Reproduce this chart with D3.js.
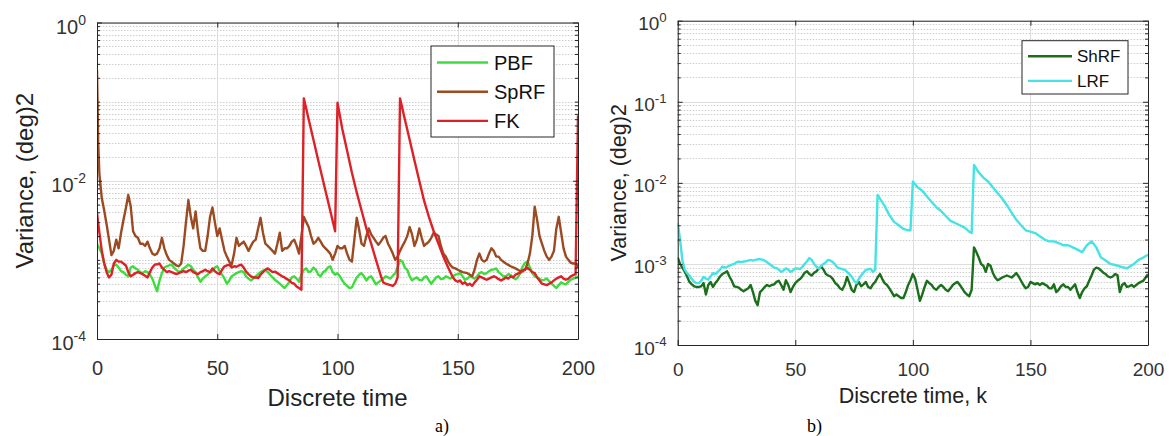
<!DOCTYPE html>
<meta charset="utf-8">
<script src="https://d3js.org/d3.v7.min.js"></script>
<style>
  body { margin: 0; background: #fff; }
  text { font-family: "Liberation Sans", Arial, sans-serif; }
</style>
<div id="chart"></div>
<script>
// ---------- data, [k, variance] ----------
var pbf = [[0,0.0016],[1,0.0014],[2,0.0012],[3,0.0009],[4,0.00075],[5,0.0007],[6,0.00075],[7,0.00085],[8,0.00087],[9,0.0008],[10,0.00072],[11,0.0007],[12,0.00065],[13,0.00062],[14,0.0008],[15,0.00083],[16,0.00078],[17,0.00075],[18,0.0007],[19,0.00068],[20,0.00072],[21,0.0007],[22,0.00065],[23,0.00058],[24,0.00048],[25,0.0004],[26,0.00055],[27,0.00068],[28,0.0008],[29,0.00083],[30,0.00085],[31,0.00087],[32,0.0008],[33,0.00075],[34,0.0007],[35,0.00072],[36,0.00078],[37,0.00082],[38,0.00087],[39,0.00083],[40,0.00075],[41,0.0007],[42,0.0006],[43,0.00053],[44,0.00058],[45,0.00062],[46,0.00065],[47,0.0007],[48,0.00072],[49,0.0008],[50,0.00083],[51,0.00072],[52,0.00065],[53,0.00058],[54,0.0005],[55,0.00055],[56,0.00062],[57,0.00065],[58,0.00068],[59,0.0007],[60,0.00072],[61,0.0007],[62,0.00062],[63,0.00058],[64,0.00055],[65,0.00058],[66,0.00062],[67,0.00066],[68,0.0007],[69,0.00073],[70,0.00075],[71,0.0007],[72,0.00065],[73,0.0006],[74,0.00056],[75,0.00053],[76,0.0005],[77,0.00047],[78,0.00044],[79,0.00048],[80,0.00053],[81,0.0006],[82,0.00062],[83,0.00058],[84,0.00053],[85,0.00065],[86,0.00075],[87,0.00078],[88,0.0007],[89,0.00072],[90,0.0008],[91,0.00075],[92,0.00065],[93,0.00062],[94,0.0007],[95,0.00073],[96,0.0008],[97,0.00083],[98,0.0007],[99,0.00065],[100,0.00068],[101,0.00062],[102,0.00055],[103,0.0005],[104,0.00047],[105,0.00044],[106,0.00045],[107,0.00052],[108,0.0006],[109,0.00065],[110,0.00068],[111,0.00062],[112,0.00055],[113,0.0006],[114,0.00062],[115,0.00055],[116,0.00049],[117,0.00052],[118,0.00055],[119,0.00058],[120,0.00062],[121,0.0006],[122,0.00058],[123,0.00063],[124,0.00068],[125,0.0008],[126,0.001],[127,0.00095],[128,0.0008],[129,0.00075],[130,0.00062],[131,0.00055],[132,0.00058],[133,0.0006],[134,0.00056],[135,0.00055],[136,0.0006],[137,0.00062],[138,0.00055],[139,0.0005],[140,0.00055],[141,0.0006],[142,0.00062],[143,0.00057],[144,0.00058],[145,0.00062],[146,0.0006],[147,0.00058],[148,0.00062],[149,0.00065],[150,0.00066],[151,0.00068],[152,0.00062],[153,0.00056],[154,0.00058],[155,0.00062],[156,0.0006],[157,0.00058],[158,0.00062],[159,0.00068],[160,0.0007],[161,0.00066],[162,0.00068],[163,0.00072],[164,0.00075],[165,0.00076],[166,0.00078],[167,0.0007],[168,0.00066],[169,0.00062],[170,0.00062],[171,0.00066],[172,0.00064],[173,0.0006],[174,0.00057],[175,0.0006],[176,0.00068],[177,0.00082],[178,0.00092],[179,0.00095],[180,0.0008],[181,0.00068],[182,0.00062],[183,0.0006],[184,0.00058],[185,0.00055],[186,0.00056],[187,0.00058],[188,0.00054],[189,0.0005],[190,0.00047],[191,0.00044],[192,0.00048],[193,0.00052],[194,0.0005],[195,0.00049],[196,0.00053],[197,0.00056],[198,0.00058],[199,0.0006],[200,0.00062]];

var sprf = [[0,0.25],[0.5,0.03],[1,0.012],[2,0.006],[3,0.0042],[4,0.0028],[5,0.0018],[6,0.00115],[7,0.0013],[8,0.0018],[9,0.0014],[10,0.0022],[11,0.0032],[12,0.0045],[13,0.0066],[14,0.0048],[15,0.0023],[16,0.002],[17,0.0019],[18,0.0016],[19,0.0016],[20,0.0015],[21,0.0017],[22,0.0014],[23,0.0012],[24,0.00115],[25,0.0012],[26,0.0014],[27,0.0019],[28,0.0014],[29,0.00115],[30,0.001],[31,0.00095],[32,0.0009],[33,0.00085],[34,0.00083],[35,0.0009],[36,0.0015],[37,0.003],[38,0.0057],[39,0.0035],[40,0.0025],[41,0.0041],[42,0.0022],[43,0.0014],[44,0.0013],[45,0.0013],[46,0.002],[47,0.0035],[48,0.0046],[49,0.003],[50,0.002],[51,0.0025],[52,0.0018],[53,0.0013],[54,0.0011],[55,0.00095],[56,0.00087],[57,0.0012],[58,0.0019],[59,0.0015],[60,0.0016],[61,0.0017],[62,0.0015],[63,0.0013],[64,0.0015],[65,0.0017],[66,0.0018],[67,0.0025],[68,0.0034],[69,0.0022],[70,0.0016],[71,0.0015],[72,0.0014],[73,0.0013],[74,0.0012],[75,0.0016],[76,0.0022],[77,0.0013],[78,0.0014],[79,0.0014],[80,0.0015],[81,0.0017],[82,0.0018],[83,0.0015],[84,0.0012],[85,0.002],[86,0.0035],[87,0.003],[88,0.0026],[89,0.002],[90,0.0016],[91,0.0017],[92,0.0019],[93,0.0017],[94,0.0015],[95,0.0014],[96,0.0013],[97,0.0012],[98,0.001],[99,0.0012],[100,0.0015],[101,0.0014],[102,0.0014],[103,0.0015],[104,0.0012],[105,0.001],[106,0.00095],[107,0.0018],[108,0.0034],[109,0.0024],[110,0.0016],[111,0.0015],[112,0.002],[113,0.0025],[114,0.0021],[115,0.0019],[116,0.0017],[117,0.00155],[118,0.0017],[119,0.0019],[120,0.002],[121,0.0016],[122,0.0014],[123,0.0012],[124,0.001],[125,0.0011],[126,0.0013],[127,0.0015],[128,0.0017],[129,0.002],[130,0.0026],[131,0.0021],[132,0.0015],[133,0.0018],[134,0.0025],[135,0.0019],[136,0.0015],[137,0.0016],[138,0.0017],[139,0.0019],[140,0.0022],[141,0.0021],[142,0.002],[143,0.0015],[144,0.0012],[145,0.0011],[146,0.00095],[147,0.00085],[148,0.0008],[149,0.00078],[150,0.00075],[152,0.0007],[154,0.00068],[156,0.00062],[157,0.00075],[158,0.001],[159,0.0012],[160,0.001],[161,0.00095],[162,0.001],[163,0.0012],[164,0.0014],[165,0.0013],[166,0.0011],[167,0.0011],[168,0.001],[170,0.0009],[172,0.00083],[174,0.00078],[175,0.00075],[176,0.00072],[178,0.00075],[179,0.0009],[180,0.0012],[181,0.002],[182,0.0047],[183,0.0032],[184,0.002],[185,0.0016],[186,0.0013],[187,0.0011],[188,0.001],[189,0.0011],[190,0.0013],[191,0.0025],[192,0.0035],[193,0.0022],[194,0.0014],[195,0.0011],[196,0.001],[197,0.00092],[198,0.0009],[199,0.0009],[200,0.0008]];

var fk = [[0,0.0039],[1,0.0022],[2,0.0013],[3,0.0009],[4,0.0007],[5,0.0006],[6,0.00065],[7,0.0009],[8,0.001],[9,0.00095],[10,0.00095],[11,0.0009],[12,0.00085],[13,0.0007],[14,0.00062],[15,0.00065],[16,0.00068],[17,0.0007],[18,0.00068],[19,0.00066],[20,0.00063],[21,0.0006],[22,0.0007],[23,0.0008],[24,0.00087],[25,0.00088],[26,0.0009],[27,0.0008],[28,0.00075],[29,0.0007],[30,0.00072],[31,0.0007],[32,0.00068],[33,0.00066],[34,0.00068],[35,0.0007],[36,0.00072],[37,0.0007],[38,0.00073],[39,0.00075],[40,0.0007],[41,0.00068],[42,0.00066],[43,0.0007],[44,0.00072],[45,0.00075],[46,0.00072],[47,0.0007],[48,0.00078],[49,0.00072],[50,0.00068],[51,0.00066],[52,0.00075],[53,0.00083],[54,0.00085],[55,0.00087],[56,0.0008],[57,0.00083],[58,0.00082],[59,0.00085],[60,0.00087],[61,0.0008],[62,0.00071],[63,0.00066],[64,0.00062],[65,0.0006],[66,0.0006],[67,0.00059],[68,0.00065],[69,0.0007],[70,0.00075],[71,0.00078],[72,0.00074],[73,0.0007],[74,0.00071],[75,0.00068],[76,0.00065],[77,0.00062],[78,0.0006],[79,0.00057],[80,0.00055],[81,0.00051],[82,0.0005],[83,0.00046],[84,0.00044],[85,0.00042],[86,0.11],[88,0.06],[90,0.033],[92,0.018],[94,0.01],[96,0.0056],[98,0.0031],[99,0.0023],[100,0.097],[102,0.045],[104,0.024],[106,0.0126],[108,0.0071],[110,0.0042],[112,0.0025],[114,0.0016],[116,0.001],[118,0.00063],[119,0.00052],[120,0.0005],[121,0.00049],[122,0.00048],[123,0.00047],[124,0.0005],[125,0.0006],[126,0.11],[128,0.06],[130,0.033],[132,0.018],[134,0.01],[136,0.0056],[138,0.0035],[140,0.0023],[142,0.0016],[144,0.0011],[146,0.0008],[148,0.0006],[149,0.00055],[150,0.00053],[151,0.00055],[152,0.0005],[153,0.00052],[154,0.00048],[155,0.0005],[156,0.00047],[157,0.00052],[158,0.00056],[159,0.00062],[160,0.0006],[161,0.00058],[162,0.00056],[163,0.00058],[164,0.0006],[165,0.00062],[166,0.0006],[167,0.00057],[168,0.00055],[169,0.00057],[170,0.0006],[171,0.00058],[172,0.00062],[173,0.0006],[174,0.00065],[175,0.00067],[176,0.00069],[177,0.00072],[178,0.00076],[179,0.00079],[180,0.00075],[181,0.0007],[182,0.00068],[183,0.0006],[184,0.00055],[185,0.0005],[186,0.00049],[187,0.00048],[188,0.0005],[189,0.00052],[190,0.00055],[191,0.00058],[192,0.0006],[193,0.00062],[194,0.00058],[195,0.00056],[196,0.00058],[197,0.00062],[198,0.00064],[199,0.00066],[200,0.067]];

var shrf = [[0,0.0012],[1,0.001],[2,0.0009],[3,0.0008],[4,0.0007],[5,0.0006],[6,0.00056],[7,0.00053],[8,0.00052],[9,0.00052],[10,0.00053],[11,0.00058],[12,0.00042],[13,0.00055],[14,0.0006],[15,0.00052],[16,0.00058],[17,0.00063],[18,0.0007],[19,0.00075],[20,0.00078],[21,0.00081],[22,0.0007],[23,0.00062],[24,0.00053],[25,0.00052],[26,0.00051],[27,0.00048],[28,0.00046],[29,0.00048],[30,0.0005],[31,0.00055],[32,0.00045],[33,0.00035],[34,0.00031],[35,0.00045],[36,0.00048],[37,0.00052],[38,0.00055],[39,0.00053],[40,0.00055],[41,0.00056],[42,0.0006],[43,0.00062],[44,0.00055],[45,0.00048],[46,0.00063],[47,0.00055],[48,0.00045],[49,0.00052],[50,0.00058],[51,0.00062],[52,0.00065],[53,0.0007],[54,0.00078],[55,0.00081],[56,0.00075],[57,0.00072],[58,0.00078],[59,0.00081],[60,0.00088],[61,0.00093],[62,0.00085],[63,0.00075],[64,0.00072],[65,0.0007],[66,0.00065],[67,0.00058],[68,0.00055],[69,0.0005],[70,0.00048],[71,0.00055],[72,0.00069],[73,0.00058],[74,0.00048],[75,0.00045],[76,0.00055],[77,0.0006],[78,0.00053],[79,0.00056],[80,0.0006],[81,0.00052],[82,0.0005],[83,0.00056],[84,0.0006],[85,0.00068],[86,0.00075],[87,0.00065],[88,0.00058],[89,0.00055],[90,0.0005],[91,0.00045],[92,0.0004],[93,0.00042],[94,0.0004],[95,0.00038],[96,0.00038],[97,0.00045],[98,0.00055],[99,0.00063],[100,0.00075],[101,0.00065],[102,0.00048],[103,0.00035],[104,0.00042],[105,0.00052],[106,0.00062],[107,0.00058],[108,0.00055],[109,0.0005],[110,0.00048],[111,0.00052],[112,0.00055],[113,0.00052],[114,0.00048],[115,0.00046],[116,0.0005],[117,0.00055],[118,0.00058],[119,0.0006],[120,0.00055],[121,0.0005],[122,0.00045],[123,0.00042],[124,0.0004],[125,0.00048],[126,0.0016],[127,0.0014],[128,0.0012],[129,0.001],[130,0.00095],[131,0.0008],[132,0.001],[133,0.00095],[134,0.00078],[135,0.00068],[136,0.00063],[137,0.00065],[138,0.00068],[139,0.0007],[140,0.00072],[141,0.0007],[142,0.00068],[143,0.00072],[144,0.00077],[145,0.0007],[146,0.00062],[147,0.00055],[148,0.0005],[149,0.00052],[150,0.0006],[151,0.00058],[152,0.00056],[153,0.00058],[154,0.00055],[155,0.00058],[156,0.00056],[157,0.00054],[158,0.0005],[159,0.0005],[160,0.00056],[161,0.00045],[162,0.00048],[163,0.00053],[164,0.00056],[165,0.00052],[166,0.00052],[167,0.00048],[168,0.00052],[169,0.00056],[170,0.00045],[171,0.00038],[172,0.00045],[173,0.0005],[174,0.00053],[175,0.00062],[176,0.00072],[177,0.00085],[178,0.0009],[179,0.00088],[180,0.00083],[181,0.00078],[182,0.00075],[183,0.0007],[184,0.00068],[185,0.0007],[186,0.00075],[187,0.00073],[188,0.00045],[189,0.00055],[190,0.00058],[191,0.00052],[192,0.00053],[193,0.00055],[194,0.00052],[195,0.00055],[196,0.00058],[197,0.0006],[198,0.00062],[199,0.00068],[200,0.00075]];

var lrf = [[0,0.0032],[1,0.002],[2,0.0011],[3,0.00085],[4,0.00077],[5,0.00072],[6,0.00065],[7,0.0006],[8,0.00058],[9,0.00058],[10,0.00062],[11,0.00069],[12,0.00066],[13,0.00064],[14,0.0007],[15,0.00077],[16,0.00075],[17,0.0008],[18,0.00085],[19,0.00093],[20,0.0009],[21,0.00092],[22,0.00095],[23,0.00098],[24,0.001],[25,0.00105],[26,0.00107],[27,0.00105],[28,0.00107],[29,0.00108],[30,0.0011],[31,0.00112],[32,0.0011],[33,0.00112],[34,0.00114],[35,0.00114],[36,0.00113],[37,0.0011],[38,0.00105],[39,0.001],[40,0.00095],[41,0.0009],[42,0.00089],[43,0.00085],[44,0.0008],[45,0.00083],[46,0.00088],[47,0.00085],[48,0.0008],[49,0.00083],[50,0.00088],[51,0.00088],[52,0.00086],[53,0.00092],[54,0.001],[55,0.00108],[56,0.00118],[57,0.00112],[58,0.001],[59,0.00092],[60,0.00088],[61,0.00095],[62,0.001],[63,0.00105],[64,0.00112],[65,0.0011],[66,0.00105],[67,0.00098],[68,0.0009],[69,0.00088],[70,0.00086],[71,0.00085],[72,0.0008],[73,0.00075],[74,0.0007],[75,0.00062],[76,0.00058],[77,0.00065],[78,0.00072],[79,0.00078],[80,0.00084],[81,0.00086],[82,0.00087],[83,0.0008],[84,0.00085],[85,0.0071],[86,0.0064],[88,0.0052],[90,0.004],[92,0.0033],[94,0.003],[96,0.0027],[98,0.0026],[99,0.0026],[100,0.0104],[102,0.0088],[104,0.008],[106,0.0068],[108,0.0058],[110,0.005],[112,0.0045],[114,0.0039],[116,0.0034],[118,0.0032],[120,0.003],[122,0.0028],[124,0.0025],[125,0.0024],[126,0.0166],[128,0.0135],[130,0.0116],[132,0.0104],[134,0.0088],[136,0.0075],[138,0.0064],[140,0.0053],[142,0.0043],[144,0.0035],[146,0.003],[148,0.0026],[150,0.0025],[152,0.0024],[154,0.0022],[156,0.002],[158,0.0019],[160,0.0019],[162,0.0018],[164,0.0017],[166,0.0017],[168,0.0016],[170,0.0015],[172,0.0014],[174,0.0017],[176,0.0019],[178,0.0016],[180,0.0012],[182,0.0011],[184,0.001],[186,0.00097],[188,0.00093],[190,0.0009],[191,0.00088],[192,0.00092],[194,0.001],[196,0.00112],[198,0.0012],[200,0.0013]];

var xTicks = [0, 50, 100, 150, 200];
var yTicksA = [1e-4, 1e-2, 1];
var yTicksB = [1e-4, 1e-3, 1e-2, 1e-1, 1];
var namesA = ["PBF", "SpRF", "FK"];
var namesB = ["ShRF", "LRF"];

var svg = d3.select("#chart").append("svg")
  .attr("width", 1171).attr("height", 436)
  .style("background", "#fff");

function drawPanel(p, id) {
  var x = d3.scaleLinear().domain([0, 200]).range([p.left, p.right]);
  var y = d3.scaleLog().domain([1e-4, 1]).range([p.bottom, p.top]);
  var isMajor = function(v) { return p.yTicks.some(function(t) { return Math.abs(Math.log10(t / v)) < 1e-6; }); };
  var minor = y.ticks().filter(function(v) { return !isMajor(v); });
  var g = svg.append("g");

  // grid
  g.selectAll(".ming").data(minor).enter().append("line")
    .attr("x1", p.left).attr("x2", p.right)
    .attr("y1", function(d) { return Math.round(y(d)) + 0.5; })
    .attr("y2", function(d) { return Math.round(y(d)) + 0.5; })
    .attr("stroke", "#cfcfcf").attr("stroke-width", 1).attr("stroke-dasharray", "1.5,1.5");
  g.selectAll(".majg").data(p.yTicks).enter().append("line")
    .attr("x1", p.left).attr("x2", p.right)
    .attr("y1", function(d) { return Math.round(y(d)) + 0.5; })
    .attr("y2", function(d) { return Math.round(y(d)) + 0.5; })
    .attr("stroke", "#dddddd").attr("stroke-width", 1);
  g.selectAll(".xg").data(xTicks).enter().append("line")
    .attr("y1", p.top).attr("y2", p.bottom)
    .attr("x1", function(d) { return Math.round(x(d)) + 0.5; })
    .attr("x2", function(d) { return Math.round(x(d)) + 0.5; })
    .attr("stroke", "#dddddd").attr("stroke-width", 1);

  // lines
  svg.append("clipPath").attr("id", "clip" + id).append("rect")
    .attr("x", p.left).attr("y", p.top)
    .attr("width", p.right - p.left).attr("height", p.bottom - p.top);
  var line = d3.line().x(function(d) { return x(d[0]); }).y(function(d) { return y(d[1]); });
  p.series.forEach(function(s) {
    g.append("path").datum(s.data)
      .attr("clip-path", "url(#clip" + id + ")")
      .attr("fill", "none").attr("stroke", s.color)
      .attr("stroke-width", 2.4).attr("stroke-linejoin", "round")
      .attr("d", line);
  });

  // axes (ticks inward on all four sides)
  var axColor = "#262626";
  g.append("g").attr("transform", "translate(0," + p.bottom + ")")
    .call(d3.axisBottom(x).tickValues(xTicks).tickSize(-5).tickSizeOuter(0))
    .attr("color", axColor)
    .selectAll("text").attr("y", p.xTickDy).attr("dy", null)
    .style("font-size", p.tickFont + "px").attr("fill", "#333");
  g.append("g").attr("transform", "translate(0," + p.top + ")")
    .call(d3.axisTop(x).tickValues(xTicks).tickSize(-5).tickSizeOuter(0).tickFormat(""))
    .attr("color", axColor);
  g.append("g").attr("transform", "translate(" + p.left + ",0)")
    .call(d3.axisLeft(y).tickValues(p.yTicks).tickSize(-5).tickSizeOuter(0).tickFormat(""))
    .attr("color", axColor);
  g.append("g").attr("transform", "translate(" + p.right + ",0)")
    .call(d3.axisRight(y).tickValues(p.yTicks).tickSize(-5).tickSizeOuter(0).tickFormat(""))
    .attr("color", axColor);
  g.append("g").attr("transform", "translate(" + p.left + ",0)")
    .call(d3.axisLeft(y).tickValues(minor).tickSize(-3).tickFormat(""))
    .attr("color", axColor).select(".domain").remove();
  g.append("g").attr("transform", "translate(" + p.right + ",0)")
    .call(d3.axisRight(y).tickValues(minor).tickSize(-3).tickFormat(""))
    .attr("color", axColor).select(".domain").remove();

  // y tick labels 10^n
  var yl = g.selectAll(".ylab").data(p.yTicks).enter().append("text")
    .attr("x", p.left - p.yLabGap)
    .attr("y", function(d) { return y(d) + p.yLabDy; })
    .attr("text-anchor", "end")
    .style("font-size", p.tickFont + "px").attr("fill", "#333");
  yl.append("tspan").text("10");
  yl.append("tspan").attr("dy", -p.tickFont * 0.45)
    .style("font-size", (p.tickFont * 0.7) + "px")
    .text(function(d) { return String(Math.round(Math.log10(d))); });

  // axis titles
  g.append("text").attr("x", (p.left + p.right) / 2).attr("y", p.xTitleY)
    .attr("text-anchor", "middle").style("font-size", p.titleFont + "px").attr("fill", "#222")
    .text(p.xTitle);
  g.append("text")
    .attr("transform", "translate(" + p.yTitleX + "," + ((p.top + p.bottom) / 2) + ") rotate(-90)")
    .attr("text-anchor", "middle").style("font-size", p.titleFont + "px").attr("fill", "#222")
    .text("Variance, (deg)2");

  // legend
  var lg = p.legend;
  g.append("rect").attr("x", lg.x).attr("y", lg.y).attr("width", lg.w).attr("height", lg.h)
    .attr("fill", "#fff").attr("stroke", axColor).attr("stroke-width", 1);
  p.series.forEach(function(s, i) {
    var yy = lg.y + lg.first + i * lg.step;
    g.append("line").attr("x1", lg.x + lg.l0).attr("x2", lg.x + lg.l1)
      .attr("y1", yy).attr("y2", yy).attr("stroke", s.color).attr("stroke-width", 2.4);
    g.append("text").attr("x", lg.x + lg.tx).attr("y", yy).attr("dy", "0.36em")
      .style("font-size", lg.font + "px").attr("fill", "#111").text(s.name);
  });

  // caption
  g.append("text").attr("x", p.capX).attr("y", 432)
    .style("font-family", "'Liberation Serif', 'Times New Roman', serif")
    .style("font-size", "18px").attr("fill", "#000").text(p.caption);
}

drawPanel({
  left: 97, right: 578, top: 22.5, bottom: 339,
  yTicks: yTicksA, tickFont: 20, titleFont: 24,
  xTickDy: 36, yLabGap: 11, yLabDy: 11,
  xTitle: "Discrete time", xTitleY: 406, yTitleX: 33,
  series: [
    {name: namesA[0], data: pbf, color: "#3fdc3f"},
    {name: namesA[1], data: sprf, color: "#9c4a22"},
    {name: namesA[2], data: fk, color: "#dc2228"}
  ],
  legend: {x: 431, y: 46, w: 123, h: 91, first: 16.5, step: 29.2, l0: 6, l1: 57, tx: 63, font: 20},
  caption: "a)", capX: 435
}, "a");

drawPanel({
  left: 677.7, right: 1148, top: 20.7, bottom: 345,
  yTicks: yTicksB, tickFont: 19, titleFont: 21.5,
  xTickDy: 31, yLabGap: 11, yLabDy: 9.5,
  xTitle: "Discrete time, k", xTitleY: 403, yTitleX: 626,
  series: [
    {name: namesB[0], data: shrf, color: "#1b6e1b"},
    {name: namesB[1], data: lrf, color: "#45e3e3"}
  ],
  legend: {x: 1022, y: 40.7, w: 106, h: 53.3, first: 15.5, step: 24.7, l0: 6, l1: 50, tx: 55, font: 17},
  caption: "b)", capX: 807
}, "b");
</script>
